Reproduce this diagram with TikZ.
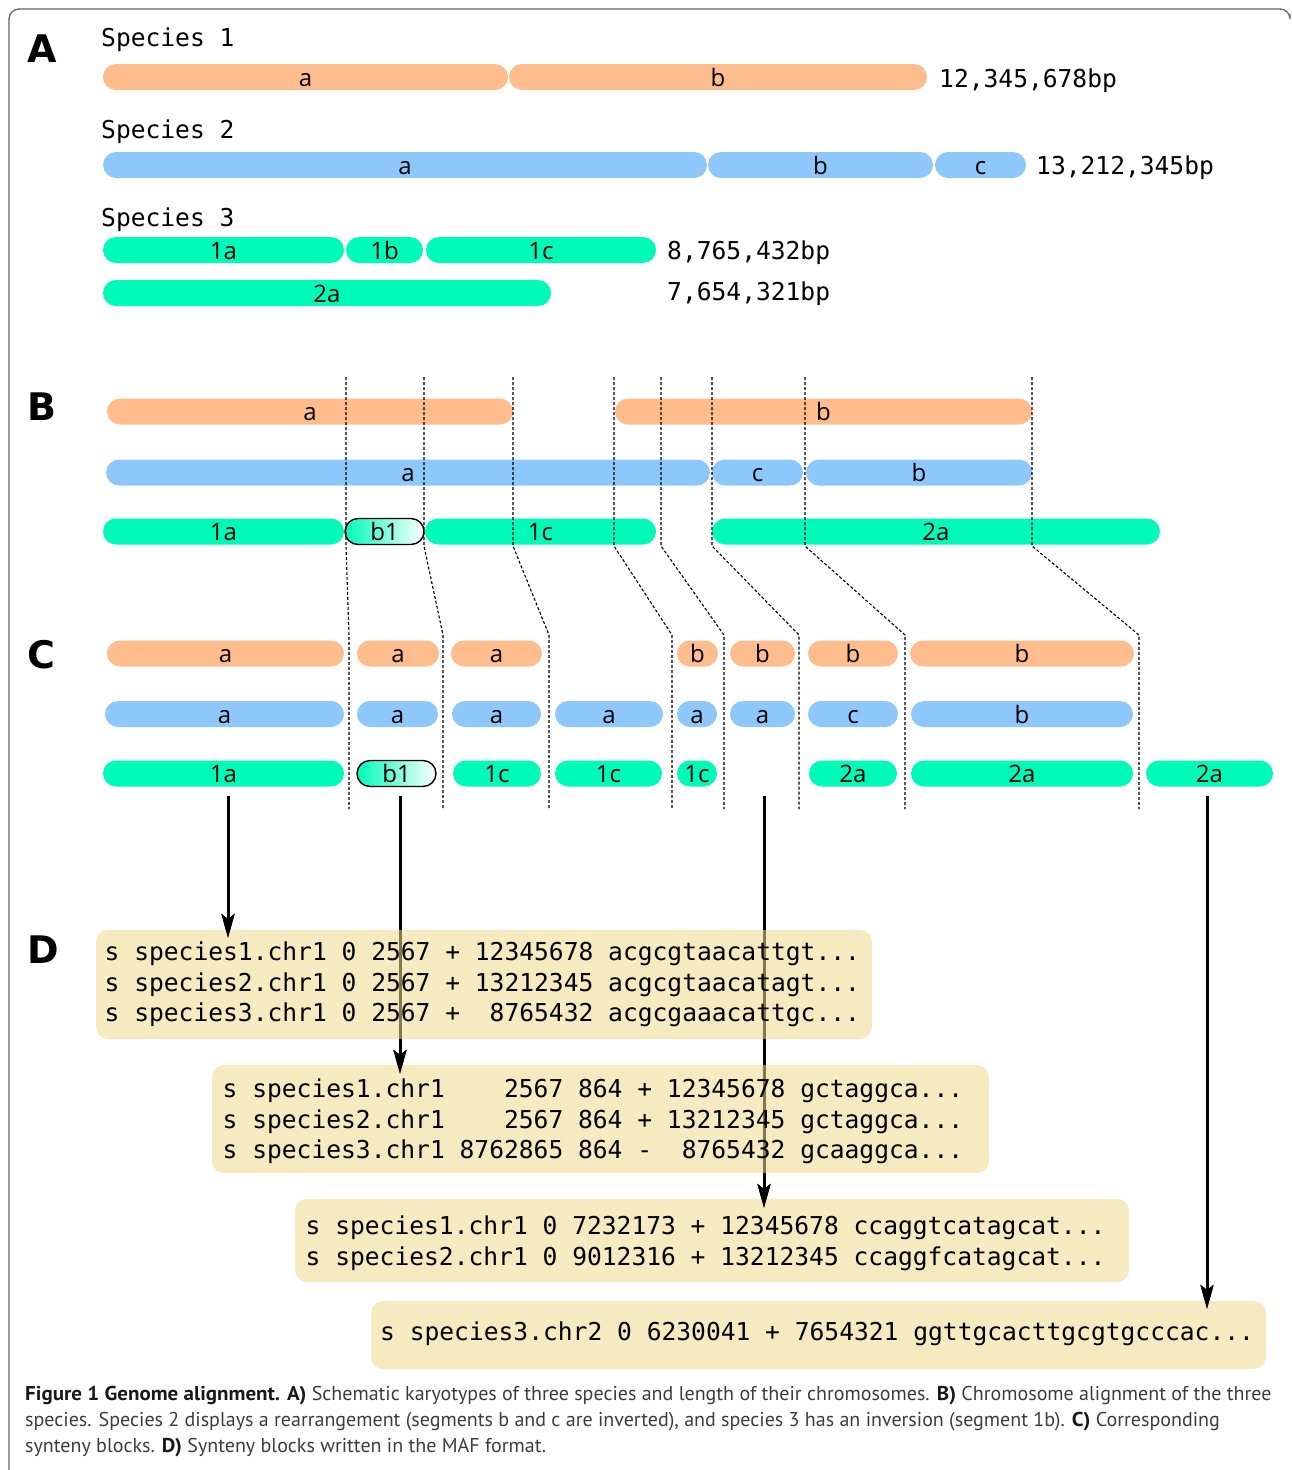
\documentclass[tikz,border=0pt]{standalone}
\usepackage{graphicx}
\usepackage{fontspec}
\setmainfont{PT Sans}
\setmonofont{DejaVu Sans Mono}
\newfontfamily\labfont{Open Sans}
\newfontfamily\panelfont{DejaVu Sans}
\usetikzlibrary{arrows.meta,calc}
\definecolor{orng}{HTML}{FFBC8C}
\definecolor{blu}{HTML}{8EC8FA}
\definecolor{mint}{HTML}{00FAB8}
\definecolor{mafbg}{RGB}{239,217,140}
\definecolor{captxt}{HTML}{3C3C3C}
\newcommand\capbold[1]{\scalebox{1.05}[1]{\textbf{\color{black!90}#1}}}
\newcommand\chrseg[6]{\node[chrbar,fill=#5,minimum width={#3pt-#2pt}] (#1) at (#2,#4) {#6};}
\newcommand\gradseg[4]{\node[chrbar,draw=black,line width=1.4pt,left color=mint,right color=white,minimum width={#3pt-#2pt}] (#1) at (#2,#4) {b1};}
\newcommand\dline[2]{\draw[guideline] (#1,377) -- (#1,546) -- (#2,635) -- (#2,809);}
\begin{document}
\begin{tikzpicture}[x=1pt,y=-1pt,
  chrbar/.style={rectangle,rounded corners=13pt,minimum height=26pt,inner sep=0pt,outer sep=0pt,
    text height=18pt,text depth=0pt,anchor=west,font=\labfont\fontsize{24}{24}\selectfont},
  monotext/.style={font=\ttfamily\fontsize{24.6}{30}\selectfont,inner sep=0pt,anchor=base west},
  paneltext/.style={font=\panelfont\bfseries\fontsize{38}{38}\selectfont,inner sep=0pt,anchor=base west},
  guideline/.style={densely dashed,line width=1.1pt},
  mafbox/.style={rectangle,rounded corners=12pt,fill=mafbg,fill opacity=0.55,anchor=north west,inner sep=0pt,outer sep=0pt},
  arrowline/.style={line width=3pt,-{Stealth[length=24pt,width=13pt,inset=5pt]}},
  captext/.style={font=\fontsize{20}{26}\selectfont,text=captxt,inner sep=0pt,anchor=base west}]
\useasboundingbox (0,0) rectangle (1292,1470);
% frame
\draw[line width=1.3pt,color=black!60,rounded corners=10pt] (9,1470) -- (9,9) -- (1290,9) -- (1290,14);
% ---------- A
\node[paneltext] (pA) at (27,62) {A};
\node[monotext] (s1) at (101,46) {Species~1};
\chrseg{a1a}{103}{508}{77}{orng}{a}
\chrseg{a1b}{509}{927}{77}{orng}{b}
\node[monotext] (l1) at (939,87) {12,345,678bp};
\node[monotext] (s2) at (101,138) {Species~2};
\chrseg{a2a}{103}{707}{165}{blu}{a}
\chrseg{a2b}{708}{933}{165}{blu}{b}
\chrseg{a2c}{935}{1026}{165}{blu}{c}
\node[monotext] (l2) at (1036,174) {13,212,345bp};
\node[monotext] (s3) at (101,226) {Species~3};
\chrseg{a31a}{103}{344}{250}{mint}{1a}
\chrseg{a31b}{346}{423}{250}{mint}{1b}
\chrseg{a31c}{426}{656}{250}{mint}{1c}
\node[monotext] (l3) at (667,259) {8,765,432bp};
\chrseg{a32a}{103}{551}{293}{mint}{2a}
\node[monotext] (l4) at (667,300.5) {7,654,321bp};
% ---------- B
\node[paneltext] (pB) at (27,420) {B};
\chrseg{b1a}{107}{513}{411.5}{orng}{a}
\chrseg{b1b}{615}{1032}{411.5}{orng}{b}
\chrseg{b2a}{106}{710}{472.5}{blu}{a}
\chrseg{b2c}{712}{803}{472.5}{blu}{c}
\chrseg{b2b}{806}{1032}{472.5}{blu}{b}
\chrseg{b31a}{103}{344}{531.5}{mint}{1a}
\gradseg{bb1}{345}{424}{531.5}
\chrseg{b31c}{425}{656}{531.5}{mint}{1c}
\chrseg{b32a}{712}{1160}{531.5}{mint}{2a}
% ---------- C
\node[paneltext] (pC) at (27,668) {C};
\chrseg{co1}{107}{344}{653.5}{orng}{a}
\chrseg{co2}{357}{439}{653.5}{orng}{a}
\chrseg{co3}{451}{542}{653.5}{orng}{a}
\chrseg{co5}{677}{718}{653.5}{orng}{b}
\chrseg{co6}{730}{795}{653.5}{orng}{b}
\chrseg{co7}{808}{898}{653.5}{orng}{b}
\chrseg{co8}{910}{1134}{653.5}{orng}{b}
\chrseg{cb1}{105}{344}{714}{blu}{a}
\chrseg{cb2}{357}{438}{714}{blu}{a}
\chrseg{cb3}{452}{541}{714}{blu}{a}
\chrseg{cb4}{555}{663}{714}{blu}{a}
\chrseg{cb5}{677}{717}{714}{blu}{a}
\chrseg{cb6}{730}{795}{714}{blu}{a}
\chrseg{cb7}{808}{898}{714}{blu}{c}
\chrseg{cb8}{911}{1133}{714}{blu}{b}
\chrseg{cg1}{103}{344}{773.5}{mint}{1a}
\gradseg{cg2}{357}{436}{773.5}
\chrseg{cg3}{453}{541}{773.5}{mint}{1c}
\chrseg{cg4}{555}{662}{773.5}{mint}{1c}
\chrseg{cg5}{677}{717}{773.5}{mint}{1c}
\chrseg{cg7}{809}{897}{773.5}{mint}{2a}
\chrseg{cg8}{911}{1133}{773.5}{mint}{2a}
\chrseg{cg9}{1146}{1273}{773.5}{mint}{2a}
% dashed guides
\dline{346}{349}
\dline{424}{443}
\dline{513}{549}
\dline{614}{672}
\dline{661}{724}
\dline{712}{799}
\dline{805}{905}
\dline{1032}{1139}
% ---------- D
\node[paneltext] (pD) at (27,963) {D};
\coordinate (t1) at (228,938);
\coordinate (t2) at (400,1074);
\coordinate (t3) at (764,1208);
\coordinate (t4) at (1207,1309);
\coordinate (s3) at (764,796);
\draw[arrowline,shorten <=9pt] (cg1.south -| t1) -- (t1);
\draw[arrowline,shorten <=9pt] (cg2.south -| t2) -- (t2);
\draw[arrowline] (s3) -- (t3);
\draw[arrowline,shorten <=9pt] (cg9.south -| t4) -- (t4);
\node[mafbox,minimum width=776pt,minimum height=109pt] (d1) at (96,930) {};
\node[mafbox,minimum width=777pt,minimum height=108pt] (d2) at (212,1065) {};
\node[mafbox,minimum width=834pt,minimum height=83pt] (d3) at (295,1199) {};
\node[mafbox,minimum width=895pt,minimum height=68pt] (d4) at (371,1301) {};
\draw[arrowline] ($(t1)+(0,-20)$) -- (t1);
\draw[arrowline] ($(t2)+(0,-20)$) -- (t2);
\draw[arrowline] ($(t3)+(0,-20)$) -- (t3);
\draw[arrowline] ($(t4)+(0,-20)$) -- (t4);
\node[monotext] (m11) at (104.5,960) {s species1.chr1 0 2567 + 12345678 acgcgtaacattgt...};
\node[monotext] (m12) at (104.5,991) {s species2.chr1 0 2567 + 13212345 acgcgtaacatagt...};
\node[monotext] (m13) at (104.5,1021) {s species3.chr1 0 2567 +~~8765432 acgcgaaacattgc...};
\node[monotext] (m21) at (222.5,1097) {s species1.chr1~~~~2567 864 + 12345678 gctaggca...};
\node[monotext] (m22) at (222.5,1128) {s species2.chr1~~~~2567 864 + 13212345 gctaggca...};
\node[monotext] (m23) at (222.5,1158) {s species3.chr1 8762865 864 -~~8765432 gcaaggca...};
\node[monotext] (m31) at (305.5,1234) {s species1.chr1 0 7232173 + 12345678 ccaggtcatagcat...};
\node[monotext] (m32) at (305.5,1265) {s species2.chr1 0 9012316 + 13212345 ccaggfcatagcat...};
\node[monotext] (m41) at (380,1340) {s species3.chr2 0 6230041 + 7654321 ggttgcacttgcgtgcccac...};
% ---------- caption
\node[captext] (c1) at (25,1400) {\capbold{Figure 1 Genome alignment. A)} Schematic karyotypes of three species and length of their chromosomes. \capbold{B)} Chromosome alignment of the three};
\node[captext] (c2) at (25,1426) {species. Species 2 displays a rearrangement (segments b and c are inverted), and species 3 has an inversion (segment 1b). \capbold{C)} Corresponding};
\node[captext] (c3) at (25,1452) {synteny blocks. \capbold{D)} Synteny blocks written in the MAF format.};
\end{tikzpicture}
\end{document}
